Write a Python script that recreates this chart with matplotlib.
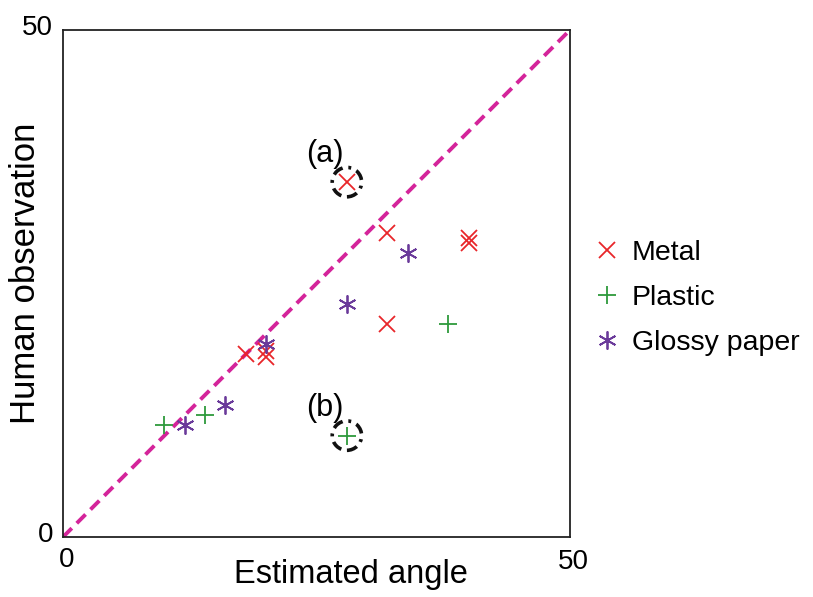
import matplotlib
matplotlib.use("Agg")
import matplotlib.pyplot as plt
from matplotlib.patches import Ellipse

plt.rcParams['font.family'] = ['Liberation Sans', 'DejaVu Sans']

metal_x = [28, 32, 40, 40, 32, 18, 20, 20]
metal_y = [35, 30, 29.5, 29, 21, 18, 18.3, 17.8]
plastic_x = [10, 14, 28, 38]
plastic_y = [11, 12, 10, 21]
glossy_x = [12, 16, 20, 28, 34]
glossy_y = [11, 13, 19, 23, 28]
highlight_x = [28, 28]
highlight_y = [35, 10]
highlight_labels = ['(a)', '(b)']
axis_min, axis_max = 0, 50

W, H = 813, 597
fig = plt.figure(figsize=(W / 100, H / 100), dpi=100)
ax = fig.add_axes([63 / W, (H - 537) / H, 507 / W, 507 / H])
ax.set_xlim(axis_min, axis_max)
ax.set_ylim(axis_min, axis_max)

ax.plot([axis_min, axis_max], [axis_min, axis_max], color='#d4249a', lw=2.8,
        ls=(0, (3.2, 1.8)), zorder=1)

ax.plot(metal_x, metal_y, ls='none', marker='x', color='#e8262a', ms=11.5, mew=1.3, label='Metal', zorder=3)
ax.plot(plastic_x, plastic_y, ls='none', marker='+', color='#2e9a3c', ms=12.5, mew=1.3, label='Plastic', zorder=3)
ax.plot(glossy_x, glossy_y, ls='none', marker=(6, 2, 0), color='#6a3a9a', ms=13, mew=1.3, label='Glossy paper', zorder=3)

for hx, hy, lab in zip(highlight_x, highlight_y, highlight_labels):
    e = Ellipse((hx, hy), width=2.9, height=2.9, fill=False, edgecolor='#111111',
                lw=2.6, ls=(0, (3, 1.6, 0.8, 1.6)), zorder=2)
    ax.add_patch(e)
    ax.annotate(lab, (hx, hy), xytext=(-16, 20), textcoords='offset points',
                fontsize=22, ha='center', va='center')

ax.set_xticks([])
ax.set_yticks([])
for s in ax.spines.values():
    s.set_linewidth(1.3)
    s.set_color('#222222')

def px(x):
    return x / W

def py(y):
    return (H - y) / H

fig.text(px(53), py(535), '0', ha='right', va='center', fontsize=20)
fig.text(px(53), py(28), '50', ha='right', va='center', fontsize=20)
fig.text(px(67), py(560), '0', ha='center', va='center', fontsize=20)
fig.text(px(573), py(562), '50', ha='center', va='center', fontsize=20)

fig.text(px(351), py(583), 'Estimated angle', ha='center', va='baseline', fontsize=23.5)
fig.text(px(35), py(273), 'Human observation', ha='center', va='baseline',
         rotation=90, rotation_mode='anchor', fontsize=25)

ax.legend(loc='center left', bbox_to_anchor=((595.6 - 63) / 507, (537 - 298) / 507),
          frameon=False, fontsize=20.5, handlelength=0.8, handletextpad=0.48,
          labelspacing=0.68, borderpad=0, borderaxespad=0)

fig.savefig('out.png', dpi=100)
